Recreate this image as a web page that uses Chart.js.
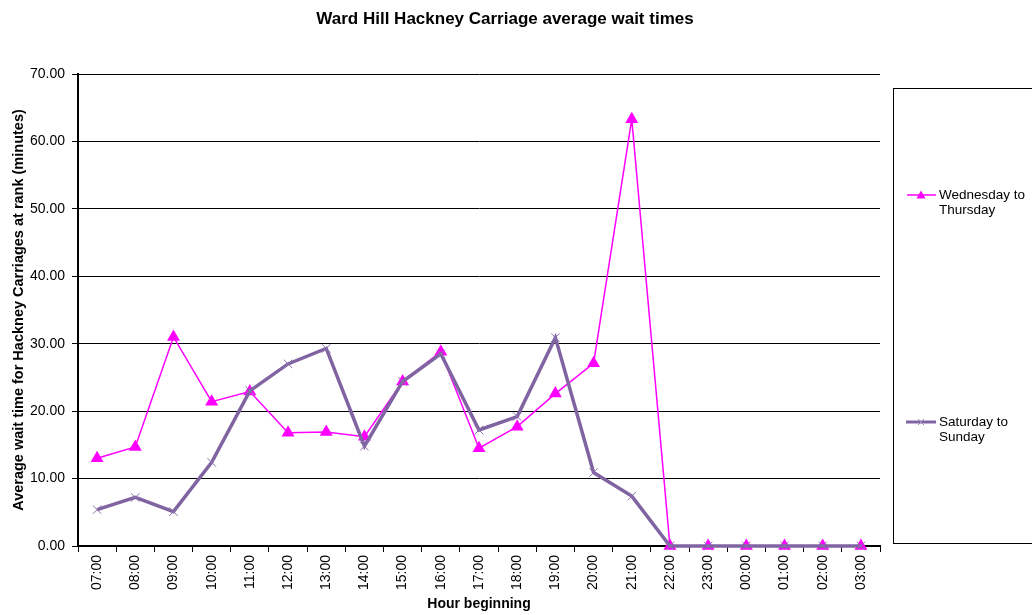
<!DOCTYPE html>
<html>
<head>
<meta charset="utf-8">
<script src="https://cdn.jsdelivr.net/npm/chart.js@4/dist/chart.umd.min.js"></script>
<style>
  html, body { margin: 0; padding: 0; background: #fff; }
  #wrap { width: 1032px; height: 615px; position: relative; }
</style>
</head>
<body>
<div id="wrap"><canvas id="waitChart"></canvas></div>
<script>
// Data
const hours = ['07:00', '08:00', '09:00', '10:00', '11:00', '12:00', '13:00', '14:00', '15:00', '16:00', '17:00',
  '18:00', '19:00', '20:00', '21:00', '22:00', '23:00', '00:00', '01:00', '02:00', '03:00'];
const wedThu = [13.0, 14.7, 31.0, 21.4, 22.9, 16.8, 16.9, 16.2, 24.4, 28.8, 14.5, 17.7, 22.6, 27.1, 63.3, 0, 0, 0, 0, 0, 0];
const satSun = [5.4, 7.2, 5.1, 12.4, 23.0, 27.0, 29.3, 14.8, 24.4, 28.5, 17.2, 19.2, 30.9, 10.9, 7.4, 0, 0, 0, 0, 0, 0];
const seriesNames = [['Wednesday to', 'Thursday'], ['Saturday to', 'Sunday']];
const chartTitle = 'Ward Hill Hackney Carriage average wait times';

const MAGENTA = '#ff00ff';
const PURPLE = '#8064a2';
const FONT = 'Arial, "Liberation Sans", sans-serif';

// Title centred on the whole picture, and the legend box on the right
const extras = {
  id: 'extras',
  beforeDraw(chart) {
    const ctx = chart.ctx;
    ctx.save();
    ctx.fillStyle = '#fff';
    ctx.fillRect(0, 0, chart.width, chart.height);
    ctx.restore();
  },
  afterDraw(chart) {
    const ctx = chart.ctx;
    ctx.save();
    ctx.fillStyle = '#000';
    ctx.textAlign = 'center';
    ctx.textBaseline = 'middle';
    ctx.font = 'bold 17px ' + FONT;
    ctx.fillText(chartTitle, 505, 19);

    ctx.textAlign = 'left';
    ctx.strokeStyle = '#000';
    ctx.lineWidth = 1;
    ctx.strokeRect(893.5, 88.5, 150, 455);

    ctx.font = '13.5px ' + FONT;

    // magenta item
    ctx.strokeStyle = MAGENTA;
    ctx.lineWidth = 1.5;
    ctx.beginPath();
    ctx.moveTo(907, 195); ctx.lineTo(936, 195);
    ctx.stroke();
    ctx.fillStyle = MAGENTA;
    ctx.beginPath();
    ctx.moveTo(921, 190.5); ctx.lineTo(925.5, 198.5); ctx.lineTo(916.5, 198.5);
    ctx.closePath();
    ctx.fill();
    ctx.fillStyle = '#000';
    ctx.fillText(seriesNames[0][0], 939, 195);
    ctx.fillText(seriesNames[0][1], 939, 210);

    // purple item
    ctx.strokeStyle = PURPLE;
    ctx.lineWidth = 3;
    ctx.beginPath();
    ctx.moveTo(906, 422); ctx.lineTo(936, 422);
    ctx.stroke();
    ctx.lineWidth = 1;
    ctx.strokeStyle = '#9a86b8';
    ctx.beginPath();
    ctx.moveTo(918, 419); ctx.lineTo(924, 425);
    ctx.moveTo(924, 419); ctx.lineTo(918, 425);
    ctx.stroke();
    ctx.fillText(seriesNames[1][0], 939, 422);
    ctx.fillText(seriesNames[1][1], 939, 437);
    ctx.restore();
  }
};

new Chart(document.getElementById('waitChart'), {
  type: 'line',
  data: {
    labels: hours,
    datasets: [
      {
        label: seriesNames[0].join(' '),
        data: wedThu,
        borderColor: MAGENTA,
        backgroundColor: MAGENTA,
        borderWidth: 1.5,
        pointStyle: 'triangle',
        pointRadius: 7.5,
        pointBorderWidth: 0,
        pointBackgroundColor: MAGENTA,
        tension: 0,
        clip: false,
        order: 2
      },
      {
        label: seriesNames[1].join(' '),
        data: satSun,
        borderColor: PURPLE,
        backgroundColor: PURPLE,
        borderWidth: 3.5,
        pointStyle: 'crossRot',
        pointRadius: 6,
        pointBorderWidth: 1,
        pointBorderColor: '#8a72ad',
        tension: 0,
        clip: false,
        order: 1
      }
    ]
  },
  options: {
    animation: false,
    responsive: true,
    maintainAspectRatio: false,
    layout: { padding: { left: 0, right: 152, top: 74, bottom: 0 } },
    plugins: {
      legend: { display: false },
      tooltip: { enabled: false },
      title: { display: false }
    },
    scales: {
      x: {
        offset: true,
        afterFit: (s) => { s.height = 69; },
        border: { color: '#000', width: 2 },
        grid: { display: true, drawOnChartArea: false, drawTicks: true, tickLength: 6, color: '#000', offset: true },
        ticks: {
          color: '#000', font: { family: FONT, size: 14 },
          minRotation: 90, maxRotation: 90, autoSkip: false, padding: 3
        },
        title: {
          display: true, text: 'Hour beginning', color: '#000',
          font: { family: FONT, size: 14, weight: 'bold' },
          padding: { top: 0, bottom: 2 }
        }
      },
      y: {
        min: 0,
        max: 70,
        afterFit: (s) => { s.width = 78; },
        border: { color: '#000', width: 2 },
        grid: { color: '#000', lineWidth: 1, drawTicks: true, tickLength: 6 },
        ticks: {
          stepSize: 10, color: '#000', padding: 7,
          font: { family: FONT, size: 14 },
          callback: (v) => v.toFixed(2)
        },
        title: {
          display: true, text: 'Average wait time for Hackney Carriages at rank (minutes)', color: '#000',
          font: { family: FONT, size: 14.5, weight: 'bold' },
          padding: { top: 10, bottom: 0 }
        }
      }
    }
  },
  plugins: [extras]
});
</script>
</body>
</html>
